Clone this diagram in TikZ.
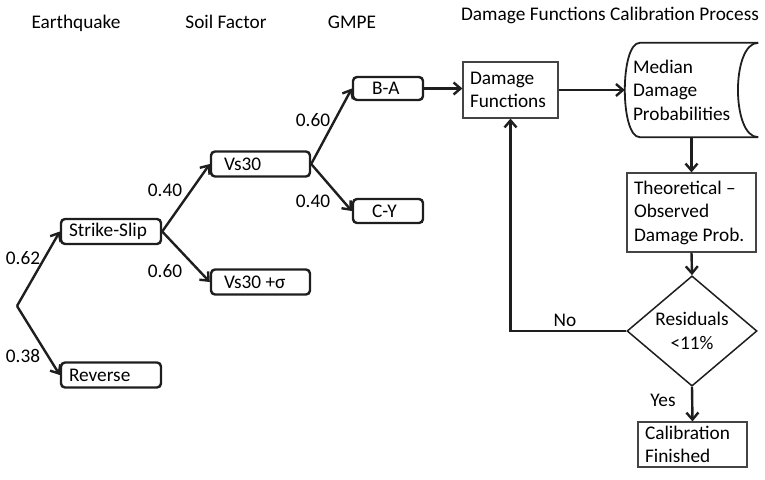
\documentclass[tikz,border=0pt]{standalone}
\usepackage{fontspec}
\setmainfont{Carlito}
\usetikzlibrary{arrows.meta, shapes.geometric}
\definecolor{ink}{HTML}{1E1E1E}
\definecolor{frame}{HTML}{444444}
\newcommand{\txtfont}{\fontsize{19.3}{23.5}\selectfont}

\begin{document}
\begin{tikzpicture}[x=1pt, y=-1pt,
  rbox/.style={draw=ink, line width=2.4pt, rounded corners=4pt, minimum height=25pt,
               align=flush left, inner ysep=0pt, font=\txtfont},
  pbox/.style={draw=frame, line width=1.2pt, align=flush left, inner xsep=7pt, inner ysep=0pt,
               font=\txtfont},
  dec/.style={diamond, draw=ink, line width=1.5pt, minimum width=130pt, minimum height=92pt,
              inner sep=0pt, align=center, font=\txtfont},
  head/.style={anchor=base, font=\txtfont},
  prob/.style={anchor=base, font=\txtfont},
  link/.style={ink, line width=2.4pt, -{Straight Barb[length=7pt, width=12pt]}},
]
\useasboundingbox (0,0) rectangle (765,479);

\node[head] (hEq) at (76,28) {Earthquake};
\node[head] (hSoil) at (226,28) {Soil Factor};
\node[head] (hGmpe) at (352,28) {GMPE};
\node[head] (hDmg) at (610,20) {Damage Functions Calibration Process};

\node[rbox, text width=84pt, inner xsep=8pt] (ss) at (111,231.5) {Strike-Slip};
\node[rbox, text width=84pt, inner xsep=8pt] (rev) at (111,375) {Reverse};
\node[rbox, text width=73pt, inner xsep=13pt] (vs) at (260.5,164) {Vs30};
\node[rbox, text width=73pt, inner xsep=13pt] (vss) at (260.5,282) {Vs30 +σ};
\node[rbox, text width=32pt, inner xsep=19pt, minimum height=23pt] (ba) at (388,88.5) {B-A};
\node[rbox, text width=32pt, inner xsep=19pt, minimum height=24pt] (cy) at (388,211) {C-Y};

\node[pbox, text width=81pt, minimum height=56pt] (df) at (510.5,90) {Damage\\Functions};
\node[align=flush left, inner xsep=8pt, inner ysep=0pt, text width=117pt, minimum height=94pt,
      font=\txtfont] (med) at (691.5,90) {Median\\Damage\\Probabilities};
\node[pbox, text width=115pt, minimum height=79pt] (theo) at (691.5,212.5) {Theoretical –\\Observed\\Damage Prob.};
\node[dec] (res) at (692,331) {Residuals\\<11\%};
\node[pbox, text width=95pt, inner xsep=7pt, minimum height=45pt] (cal) at (692.5,444.5) {Calibration\\Finished};

\draw[ink, line width=1.8pt] (med.north east) -- ([xshift=15pt]med.north west)
  .. controls ([xshift=-5pt]med.north west) and ([xshift=-5pt]med.south west) .. ([xshift=15pt]med.south west)
  -- (med.south east);
\draw[ink, line width=1.8pt] (med.north east)
  .. controls ([xshift=-27pt]med.north east) and ([xshift=-27pt]med.south east) .. (med.south east);

\coordinate (root) at (17,306);
\draw[link] (root) -- (ss.west);
\draw[link] (root) -- (rev.west);
\draw[link] (ss.east) -- (vs.west);
\draw[link] (ss.east) -- (vss.west);
\draw[link] (vs.east) -- (ba.west);
\draw[link] (vs.east) -- (cy.west);
\draw[link] (ba.east) -- (ba.east -| df.west);
\draw[link] (df.east) -- (med.west);
\draw[link] (med.south) -- (theo.north);
\draw[link] (theo.south) -- (res.north);
\draw[link] (res.south) -- (cal.north);
\draw[link] (res.west) -| (df.south);

\node[prob] (p62) at (23,264) {0.62};
\node[prob] (p38) at (23,362) {0.38};
\node[prob] (p40a) at (165,196) {0.40};
\node[prob] (p60a) at (165,277) {0.60};
\node[prob] (p60b) at (313,126) {0.60};
\node[prob] (p40b) at (313,207) {0.40};
\node[prob] (lNo) at (565,326) {No};
\node[prob] (lYes) at (663,406) {Yes};

\end{tikzpicture}
\end{document}
